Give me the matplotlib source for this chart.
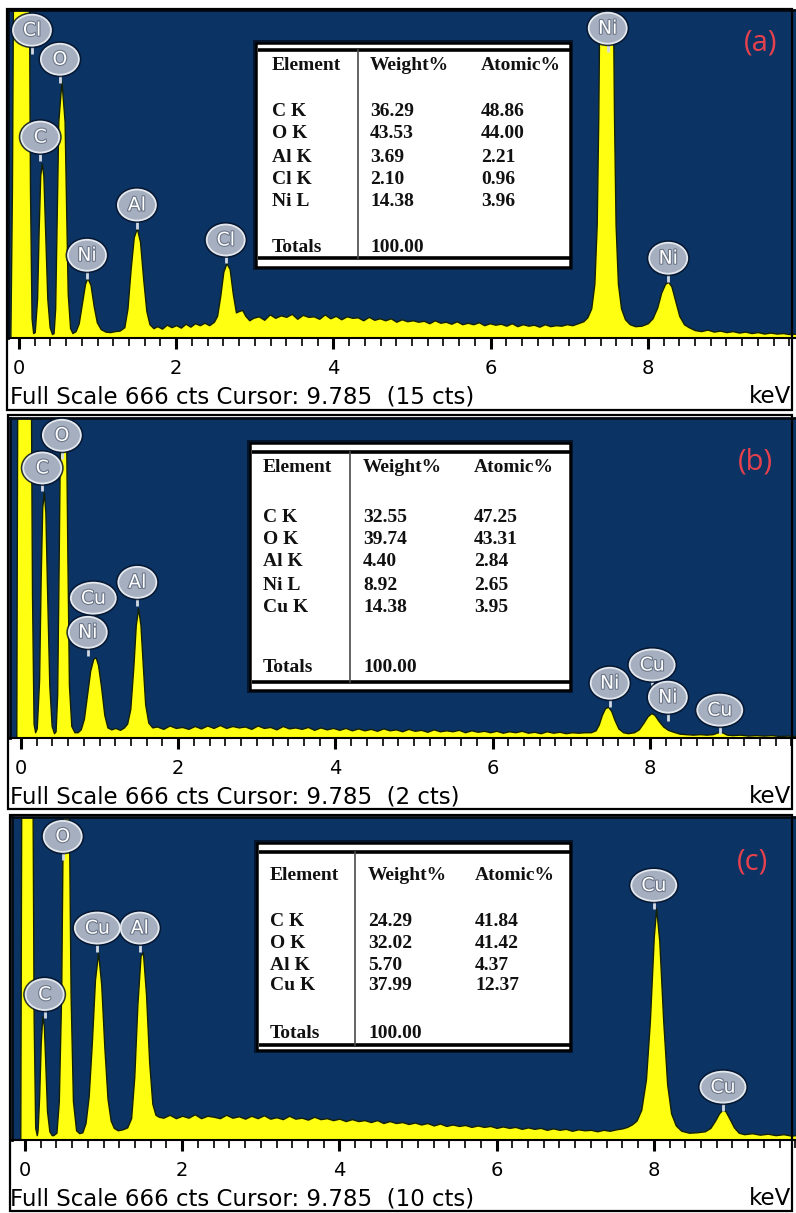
import matplotlib
matplotlib.use("Agg")
import matplotlib.pyplot as plt
import matplotlib.patheffects as pe
from matplotlib.patches import Ellipse, Rectangle
from matplotlib.ticker import MultipleLocator

# ---- spectrum (a): energy in keV, counts ----
kev_a = [
    -0.15, -0.11, -0.09, -0.07, 0.12, 0.14, 0.16, 0.18,
    0.20, 0.23, 0.25, 0.27, 0.29, 0.31, 0.33, 0.36, 0.39, 0.42,
    0.44, 0.46, 0.48, 0.50, 0.54, 0.58, 0.60, 0.62, 0.65, 0.68,
    0.72, 0.76, 0.80, 0.84, 0.87, 0.91, 0.95, 0.99, 1.04, 1.10, 1.16, 1.22, 1.28,
    1.34, 1.38, 1.42, 1.46, 1.50, 1.54, 1.58, 1.62, 1.66, 1.71,
    1.76, 1.82, 1.88, 1.94, 2.00, 2.06, 2.12, 2.18, 2.24, 2.30, 2.36, 2.42, 2.48,
    2.52, 2.56, 2.60, 2.64, 2.68, 2.72, 2.76, 2.80, 2.84, 2.88, 2.93, 2.98,
    3.05, 3.12, 3.19, 3.26, 3.33, 3.40, 3.47, 3.54, 3.61, 3.68, 3.75, 3.82, 3.89, 3.96,
    4.03, 4.10, 4.17, 4.24, 4.31, 4.38, 4.45, 4.52, 4.59, 4.66, 4.73, 4.80, 4.87, 4.94,
    5.01, 5.08, 5.15, 5.22, 5.29, 5.36, 5.43, 5.50, 5.57, 5.64, 5.71, 5.78, 5.85, 5.92, 5.99,
    6.06, 6.13, 6.20, 6.27, 6.34, 6.41, 6.48, 6.55, 6.62, 6.69, 6.76, 6.83, 6.90, 6.97,
    7.04, 7.11, 7.18, 7.23,
    7.28, 7.32, 7.35, 7.37, 7.39, 7.47, 7.55, 7.57, 7.59, 7.62, 7.66, 7.71, 7.77, 7.84, 7.92, 8.00,
    8.06, 8.12, 8.17, 8.22, 8.26, 8.30, 8.35, 8.40, 8.46, 8.52,
    8.60, 8.68, 8.76, 8.84, 8.92, 9.00, 9.08, 9.16, 9.24, 9.32, 9.40, 9.48, 9.56, 9.64, 9.72, 9.80, 9.90]
cts_a = [
    0, 0, 300, 900, 900, 300, 40, 10,
    12, 80, 220, 330, 355, 330, 230, 80, 22, 8,
    10, 60, 250, 440, 522, 440, 260, 90, 20, 10,
    14, 30, 70, 110, 122, 108, 65, 32, 18, 13, 12, 14, 15,
    22, 60, 140, 205, 223, 195, 120, 55, 28, 20,
    24, 19, 27, 22, 26, 21, 29, 23, 30, 26, 31, 26, 33,
    45, 85, 135, 152, 140, 90, 52, 55, 57, 45, 36, 41,
    44, 37, 48, 41, 46, 43, 49, 39, 47, 43, 44, 39, 48, 40,
    45, 38, 44, 41, 42, 36, 43, 37, 40, 36, 40, 33, 38, 34,
    36, 33, 35, 30, 36, 31, 33, 29, 34, 28, 31, 28, 32, 26, 30,
    27, 29, 25, 30, 24, 28, 25, 27, 23, 28, 24, 26, 25, 28,
    26, 30, 34, 42,
    60, 110, 230, 450, 800, 1000, 800, 450, 230, 110, 60, 38, 28, 24, 25, 30,
    40, 62, 92, 110, 114, 105, 75, 45, 28, 22,
    16, 14, 17, 13, 15, 12, 14, 11, 13, 10, 12, 9, 11, 9, 10, 8, 9]

# ---- spectrum (b) ----
kev_b = [
    -0.15, -0.06, -0.045, 0.12, 0.14, 0.16, 0.18,
    0.20, 0.23, 0.25, 0.27, 0.29, 0.31, 0.33, 0.36, 0.39, 0.42,
    0.44, 0.46, 0.48, 0.50, 0.535, 0.57, 0.59, 0.61, 0.64, 0.68,
    0.72, 0.76, 0.80, 0.84, 0.88, 0.92, 0.95, 0.98, 1.02, 1.06, 1.10, 1.15, 1.20, 1.26, 1.31, 1.35,
    1.39, 1.43, 1.46, 1.49, 1.52, 1.55, 1.58, 1.62, 1.67,
    1.73, 1.81, 1.89, 1.97, 2.05, 2.13, 2.21, 2.29, 2.37, 2.45, 2.53, 2.61, 2.69, 2.77, 2.85,
    2.93, 3.01, 3.09, 3.17, 3.25, 3.33, 3.41, 3.49, 3.57, 3.65, 3.73, 3.81, 3.89, 3.97,
    4.05, 4.13, 4.21, 4.29, 4.37, 4.45, 4.53, 4.61, 4.69, 4.77, 4.85, 4.93, 5.01, 5.09,
    5.17, 5.25, 5.33, 5.41, 5.49, 5.57, 5.65, 5.73, 5.81, 5.89, 5.97, 6.05, 6.13, 6.21,
    6.29, 6.37, 6.45, 6.53, 6.61, 6.69, 6.77, 6.85, 6.93, 7.01, 7.09, 7.17,
    7.25, 7.31, 7.35, 7.39, 7.43, 7.47, 7.51, 7.55, 7.60, 7.66, 7.72, 7.80,
    7.86, 7.92, 7.97, 8.02, 8.06, 8.11, 8.17, 8.23, 8.30, 8.38, 8.46, 8.55, 8.64, 8.72, 8.80,
    8.85, 8.89, 8.93, 8.98, 9.05, 9.15, 9.25, 9.35, 9.45, 9.55, 9.65, 9.75, 9.90]
cts_b = [
    0, 0, 900, 900, 300, 30, 12,
    20, 120, 330, 480, 512, 470, 320, 110, 25, 10,
    14, 90, 380, 700, 820, 700, 380, 110, 25, 12,
    12, 18, 40, 90, 140, 165, 168, 152, 105, 48, 22, 18, 21, 17, 22, 30,
    60, 150, 235, 270, 235, 150, 70, 32, 22,
    24, 19, 26, 21, 23, 19, 25, 20, 26, 21, 27, 21, 25, 22, 24,
    19, 26, 21, 23, 18, 25, 20, 22, 19, 23, 17, 22, 18, 21,
    17, 21, 16, 20, 16, 19, 15, 20, 16, 18, 14, 19, 15, 17,
    13, 18, 14, 16, 14, 17, 12, 16, 13, 15, 12, 15, 11, 14,
    12, 15, 11, 13, 10, 14, 11, 13, 10, 12, 11, 12,
    12, 16, 28, 48, 62, 65, 56, 38, 20, 12, 10, 12,
    18, 32, 45, 52, 48, 36, 24, 17, 13, 9, 8, 7, 8, 7, 8,
    11, 13, 11, 7, 6, 7, 5, 6, 5, 6, 4, 5, 4]

# ---- spectrum (c) ----
kev_c = [
    -0.17, -0.06, -0.045, 0.09, 0.11, 0.13, 0.15,
    0.16, 0.18, 0.20, 0.22, 0.24, 0.26, 0.28, 0.31, 0.34,
    0.36, 0.40, 0.43, 0.46, 0.48, 0.52, 0.56, 0.58, 0.61, 0.65, 0.69,
    0.73, 0.77, 0.81, 0.85, 0.89, 0.93, 0.97, 1.01, 1.05, 1.09, 1.13, 1.18, 1.24, 1.30,
    1.35, 1.39, 1.43, 1.47, 1.50, 1.54, 1.58, 1.62, 1.66, 1.70,
    1.76, 1.84, 1.92, 2.00, 2.08, 2.16, 2.24, 2.32, 2.40, 2.48, 2.56, 2.64, 2.72, 2.80,
    2.88, 2.96, 3.04, 3.12, 3.20, 3.28, 3.36, 3.44, 3.52, 3.60, 3.68, 3.76, 3.84, 3.92,
    4.00, 4.08, 4.16, 4.24, 4.32, 4.40, 4.48, 4.56, 4.64, 4.72, 4.80, 4.88, 4.96, 5.04,
    5.12, 5.20, 5.28, 5.36, 5.44, 5.52, 5.60, 5.68, 5.76, 5.84, 5.92, 6.00, 6.08, 6.16,
    6.24, 6.32, 6.40, 6.48, 6.56, 6.64, 6.72, 6.80, 6.88, 6.96, 7.04, 7.12, 7.20, 7.28,
    7.36, 7.44, 7.52, 7.60, 7.66,
    7.72, 7.78, 7.84, 7.90, 7.95, 8.00, 8.03, 8.07, 8.12, 8.17, 8.22, 8.28, 8.35, 8.45, 8.55, 8.65,
    8.72, 8.78, 8.83, 8.87, 8.91, 8.96, 9.02, 9.08, 9.15, 9.25, 9.35, 9.45, 9.55, 9.65, 9.75, 9.85]
cts_c = [
    0, 0, 900, 900, 250, 25, 10,
    20, 90, 200, 255, 235, 150, 60, 18, 10,
    10, 15, 80, 300, 650, 850, 650, 300, 80, 20, 14,
    16, 35, 90, 200, 330, 387, 320, 190, 85, 40, 25, 20, 22, 26,
    45, 130, 280, 380, 387, 300, 160, 75, 52, 48,
    46, 52, 45, 50, 46, 53, 45, 50, 48, 45, 52, 46, 49, 44,
    50, 45, 51, 44, 47, 43, 50, 44, 46, 42, 48, 43, 45, 41,
    44, 39, 43, 39, 41, 37, 41, 35, 39, 35, 37, 33, 36, 32,
    35, 30, 34, 29, 32, 29, 31, 27, 30, 27, 29, 25, 28, 25,
    27, 23, 26, 23, 25, 21, 24, 21, 23, 19, 22, 20, 21, 18,
    21, 19, 22, 24, 27,
    32, 40, 62, 125, 245, 420, 478, 410, 245, 115, 55, 30, 19, 15, 16, 18,
    25, 40, 55, 62, 60, 45, 26, 15, 12, 14, 11, 13, 10, 12, 9, 11]

# ---- peak labels ----
lab_a = ["Cl", "O", "C", "Ni", "Al", "Cl", "Ni", "Ni"]
lab_kev_a = [0.165, 0.52, 0.27, 0.865, 1.50, 2.63, 7.49, 8.26]
lab_b = ["C", "O", "Cu", "Ni", "Al", "Ni", "Cu", "Ni", "Cu"]
lab_kev_b = [0.27, 0.52, 0.92, 0.85, 1.48, 7.49, 8.03, 8.23, 8.89]
lab_c = ["C", "O", "Cu", "Al", "Cu", "Cu"]
lab_kev_c = [0.25, 0.48, 0.92, 1.46, 8.00, 8.88]

# ---- quantification tables ----
tab_el_a = ["C K", "O K", "Al K", "Cl K", "Ni L"]
tab_wt_a = [36.29, 43.53, 3.69, 2.10, 14.38]
tab_at_a = [48.86, 44.00, 2.21, 0.96, 3.96]
tab_el_b = ["C K", "O K", "Al K", "Ni L", "Cu K"]
tab_wt_b = [32.55, 39.74, 4.40, 8.92, 14.38]
tab_at_b = [47.25, 43.31, 2.84, 2.65, 3.95]
tab_el_c = ["C K", "O K", "Al K", "Cu K"]
tab_wt_c = [24.29, 32.02, 5.70, 37.99]
tab_at_c = [41.84, 41.42, 4.37, 12.37]

cursor_cts = [15, 2, 10]
letters = ["(a)", "(b)", "(c)"]

W, H = 796, 1213
PX_PER_KEV = 78.6
FULL_SCALE = 666
NAVY = "#0b3363"
YELLOW = "#ffff12"

# layout in pixels (label heights are in counts)
panels = [
    dict(kev=kev_a, cts=cts_a, labs=lab_a, lab_kev=lab_kev_a,
         lab_y=[625, 566, 408, 168, 270, 199, 629, 162],
         plot=(8, 10, 796, 338), zero=19, frame=(7, 9, 792, 410),
         table=dict(box=(256, 43, 570, 267), lines=(50, 258), vline=358,
                    cols=(272, 370, 481), head=65, rows=[112, 134, 157, 179, 202], total=247),
         el=tab_el_a, wt=tab_wt_a, at=tab_at_a, letter_xy=(761, 43)),
    dict(kev=kev_b, cts=cts_b, labs=lab_b, lab_kev=lab_kev_b,
         lab_y=[562, 630, 291, 220, 324, 114, 152, 85, 58],
         plot=(10, 418, 796, 738), zero=21, frame=(8, 415, 792, 809),
         table=dict(box=(250, 443, 570, 690), lines=(452, 682), vline=350,
                    cols=(263, 363, 474), head=468, rows=[517, 540, 562, 585, 607], total=668),
         el=tab_el_b, wt=tab_wt_b, at=tab_at_b, letter_xy=(755, 462)),
    dict(kev=kev_c, cts=cts_c, labs=lab_c, lab_kev=lab_kev_c,
         lab_y=[300, 626, 437, 437, 525, 109],
         plot=(12, 817, 796, 1140), zero=25, frame=(10, 815, 792, 1211),
         table=dict(box=(257, 843, 570, 1050), lines=(852, 1045), vline=355,
                    cols=(270, 368, 475), head=876, rows=[922, 943, 965, 986], total=1034),
         el=tab_el_c, wt=tab_wt_c, at=tab_at_c, letter_xy=(752, 862)),
]


def px_axes(fig, x0, y0, x1, y1, **kw):
    return fig.add_axes([x0 / W, 1 - y1 / H, (x1 - x0) / W, (y1 - y0) / H], **kw)


def draw_label(ax, text, kev, y, sx, sy):
    w = 45 if text == "Cu" else 38
    h = 31
    ax.add_patch(Ellipse((kev, y), (w + 5) * sx, (h + 5) * sy, fc="#04132a", ec="none",
                         alpha=0.85, zorder=5, clip_on=False))
    ax.add_patch(Ellipse((kev, y), w * sx, h * sy, fc="#a5afbf", ec="#e4e9f0", lw=1.3,
                         zorder=6, clip_on=False))
    ax.plot([kev, kev], [y - h / 2 * sy, y - (h / 2 + 8) * sy], color="#d3dae4", lw=2,
            zorder=4, solid_capstyle="butt")
    ax.text(kev, y, text, color="white", ha="center", va="center", fontsize=13.5,
            zorder=7, path_effects=[pe.withStroke(linewidth=1.6, foreground="#6c778a")])


fig = plt.figure(figsize=(W / 100, H / 100), dpi=100)
fig.patch.set_facecolor("white")

# overlay for frames, tables and texts, in pixel coordinates
ov = fig.add_axes([0, 0, 1, 1], zorder=10)
ov.set_xlim(0, W)
ov.set_ylim(H, 0)
ov.axis("off")
ov.patch.set_alpha(0)

for i, p in enumerate(panels):
    x0, y0, x1, y1 = p["plot"]
    ax = px_axes(fig, x0, y0, x1, y1)
    ax.set_facecolor(NAVY)
    ax.set_xlim((x0 - p["zero"]) / PX_PER_KEV, (x1 - p["zero"]) / PX_PER_KEV)
    ax.set_ylim(0, FULL_SCALE)
    sx = 1 / PX_PER_KEV
    sy = FULL_SCALE / (y1 - y0)

    ax.fill_between(p["kev"], p["cts"], 0, color=YELLOW, ec="#14210a", lw=1.0, zorder=2)

    for t, k, yl in zip(p["labs"], p["lab_kev"], p["lab_y"]):
        draw_label(ax, t, k, yl, sx, sy)

    ax.set_yticks([])
    ax.xaxis.set_major_locator(MultipleLocator(2))
    ax.xaxis.set_minor_locator(MultipleLocator(0.2))
    ax.set_xticks([0, 2, 4, 6, 8])
    ax.tick_params(axis="x", which="major", direction="out", length=8, width=2.2,
                   color="black", labelsize=14, pad=7)
    ax.tick_params(axis="x", which="minor", direction="out", length=6, width=1.2, color="black")
    for lbl in ax.get_xticklabels():
        lbl.set_fontfamily("DejaVu Sans")
    for s in ["top", "left"]:
        ax.spines[s].set_color("#020a14")
        ax.spines[s].set_linewidth(2)
    ax.spines["right"].set_visible(False)
    ax.spines["bottom"].set_color("black")
    ax.spines["bottom"].set_linewidth(1.5)

    # panel frame and right edge line
    fx0, fy0, fx1, fy1 = p["frame"]
    ov.add_patch(Rectangle((fx0, fy0), fx1 - fx0, fy1 - fy0, fill=False, ec="black", lw=1.6))

    # status line
    base = y1 + 65
    ov.text(10, base, f"Full Scale {FULL_SCALE} cts Cursor: 9.785  ({cursor_cts[i]} cts)",
            fontsize=16.5, family="DejaVu Sans", ha="left", va="baseline", color="black")
    ov.text(791, base, "keV", fontsize=16.5, family="DejaVu Sans", ha="right", va="baseline",
            color="black")

    # panel letter
    lx, ly = p["letter_xy"]
    ov.text(lx, ly, letters[i], fontsize=21, family="Open Sans", color="#e8414e",
            ha="center", va="center")

    # table
    tb = p["table"]
    bx0, by0, bx1, by1 = tb["box"]
    ov.add_patch(Rectangle((bx0 - 3, by0 - 3), bx1 - bx0 + 6, by1 - by0 + 6, fc="#020a16",
                           ec="none", alpha=0.7))
    ov.add_patch(Rectangle((bx0, by0), bx1 - bx0, by1 - by0, fc="white", ec="black", lw=1.8))
    for ly_ in tb["lines"]:
        ov.plot([bx0 + 2, bx1], [ly_, ly_], color="black", lw=2.6, solid_capstyle="butt")
    ov.plot([tb["vline"], tb["vline"]], tb["lines"], color="#4a4a4a", lw=1.2)
    c0, c1, c2 = tb["cols"]
    tkw = dict(fontsize=14, family="Liberation Serif", fontweight="bold", color="#111111",
               ha="left", va="center")
    ov.text(c0, tb["head"], "Element", **tkw)
    ov.text(c1, tb["head"], "Weight%", **tkw)
    ov.text(c2, tb["head"], "Atomic%", **tkw)
    for el, wt, at, ry in zip(p["el"], p["wt"], p["at"], tb["rows"]):
        ov.text(c0, ry, el, **tkw)
        ov.text(c1, ry, f"{wt:.2f}", **tkw)
        ov.text(c2, ry, f"{at:.2f}", **tkw)
    ov.text(c0, tb["total"], "Totals", **tkw)
    ov.text(c1, tb["total"], "100.00", **tkw)

fig.savefig("out.png", dpi=100)
